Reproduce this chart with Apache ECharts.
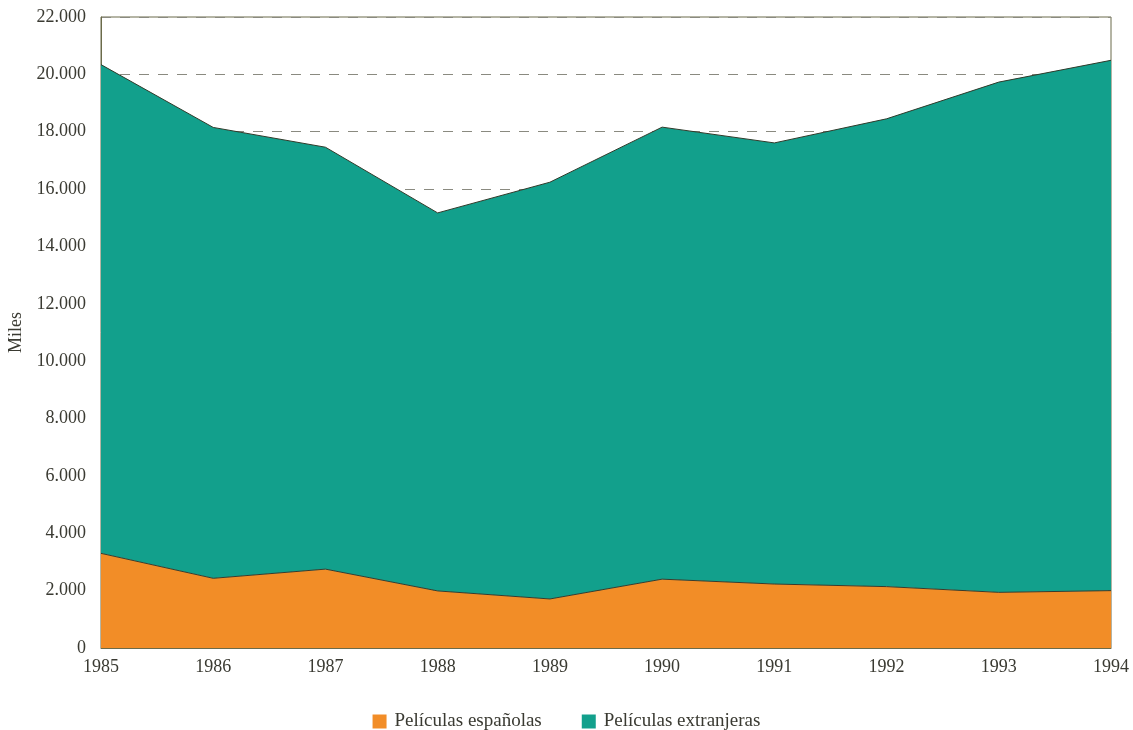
<!DOCTYPE html>
<html>
<head>
<meta charset="utf-8">
<script src="https://cdn.jsdelivr.net/npm/echarts@6/dist/echarts.min.js"></script>
<style>
html,body{margin:0;padding:0;background:#fff;}
#chart{width:1133px;height:730px;}
</style>
</head>
<body>
<div id="chart"></div>
<script>
const years = ['1985','1986','1987','1988','1989','1990','1991','1992','1993','1994'];
const espanolas = [3300, 2430, 2750, 1990, 1710, 2400, 2230, 2140, 1940, 2000];
const extranjeras = [17040, 15720, 14710, 13180, 14530, 15760, 15380, 16310, 17790, 18490];
const yTicks = { min: 0, max: 22000, interval: 2000 };

const serif = '"Liberation Serif", "DejaVu Serif", serif';
const textColor = '#3a3a32';
const chart = echarts.init(document.getElementById('chart'));
chart.setOption({
  animation: false,
  textStyle: { fontFamily: serif },
  grid: { left: 101, right: 22, top: 17, bottom: 82, show: true, borderColor: '#6b6b4a', borderWidth: 1, backgroundColor: 'transparent', containLabel: false, outerBoundsMode: 'none' },
  legend: {
    top: 707, left: 'center',
    itemWidth: 14, itemHeight: 14, itemGap: 40,
    icon: 'rect',
    textStyle: { fontFamily: serif, fontSize: 19, color: textColor, padding: [0, 0, 0, 3] },
    data: ['Películas españolas', 'Películas extranjeras']
  },
  xAxis: {
    type: 'category', data: years, boundaryGap: false,
    axisLine: { show: true, lineStyle: { color: '#6b6b4a', width: 1 } },
    axisTick: { show: false },
    axisLabel: { fontFamily: serif, fontSize: 18, color: textColor, margin: 10 },
    splitLine: { show: false }
  },
  yAxis: {
    type: 'value', min: yTicks.min, max: yTicks.max, interval: yTicks.interval,
    name: 'Miles', nameLocation: 'middle', nameGap: 74, nameRotate: 90,
    nameTextStyle: { fontFamily: serif, fontSize: 18, color: textColor },
    axisLine: { show: true, lineStyle: { color: '#6b6b4a', width: 1 } },
    axisTick: { show: false },
    axisLabel: {
      fontFamily: serif, fontSize: 18, color: textColor, margin: 15,
      formatter: v => String(v).replace(/\B(?=(\d{3})+(?!\d))/g, '.')
    },
    splitLine: { show: true, lineStyle: { color: '#8a8a80', type: [10, 9], width: 1 } }
  },
  series: [
    {
      name: 'Películas españolas', type: 'line', stack: 'total', data: espanolas,
      symbol: 'none', color: '#F28D27',
      lineStyle: { color: '#3a3a2a', width: 1 },
      areaStyle: { color: '#F28D27', opacity: 1 }
    },
    {
      name: 'Películas extranjeras', type: 'line', stack: 'total', data: extranjeras,
      symbol: 'none', color: '#12A08C',
      lineStyle: { color: '#2f3a2a', width: 1 },
      areaStyle: { color: '#12A08C', opacity: 1 }
    }
  ]
});
</script>
</body>
</html>
